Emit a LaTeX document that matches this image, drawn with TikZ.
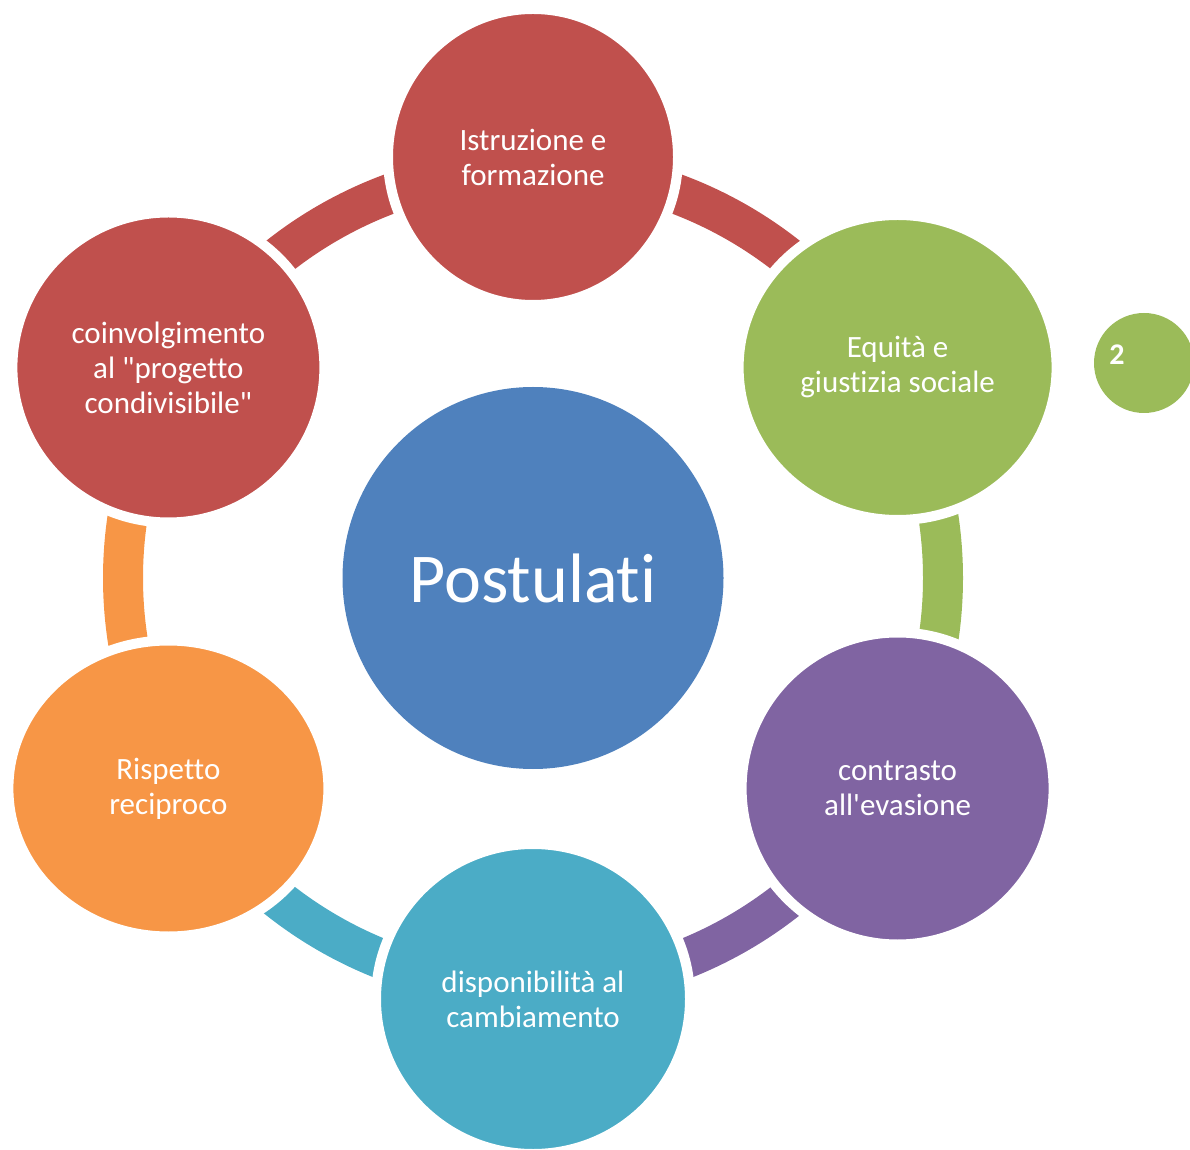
\documentclass[tikz,border=0pt]{standalone}
\usepackage{fontspec}
\newfontfamily\calibri{Carlito}[Ligatures=NoCommon]
\usetikzlibrary{shapes.geometric}
\definecolor{cred}{HTML}{C0504D}
\definecolor{cgreen}{HTML}{9BBB59}
\definecolor{cpurple}{HTML}{8064A2}
\definecolor{cteal}{HTML}{4BACC6}
\definecolor{corange}{HTML}{F79646}
\definecolor{cblue}{HTML}{4F81BD}
\tikzset{
  ringarc/.style={line width=40pt},
  outer/.style={ellipse, draw=white, line width=10pt, inner sep=0pt, text=white, align=center,
    font=\calibri\fontsize{31}{35}\selectfont},
}
\begin{document}
\begin{tikzpicture}[x=1pt,y=1pt]
\useasboundingbox (0,0) rectangle (1190,1149);
\clip (0,0) rectangle (1190,1149);
\coordinate (C) at (533,571);
% ring arcs
\draw[ringarc, cred] ([shift={(90:410)}]C) arc[start angle=90, end angle=30, radius=410];
\draw[ringarc, cgreen] ([shift={(30:410)}]C) arc[start angle=30, end angle=-30, radius=410];
\draw[ringarc, cpurple] ([shift={(-30:410)}]C) arc[start angle=-30, end angle=-90, radius=410];
\draw[ringarc, cteal] ([shift={(-90:410)}]C) arc[start angle=-90, end angle=-150, radius=410];
\draw[ringarc, corange] ([shift={(210:410)}]C) arc[start angle=210, end angle=150, radius=410];
\draw[ringarc, cred] ([shift={(150:410)}]C) arc[start angle=150, end angle=90, radius=410];
% center
\node[ellipse, fill=cblue, inner sep=0pt, minimum width=381pt, minimum height=382pt,
  text=white, font=\calibri\fontsize{70}{80}\selectfont] (post) at (C) {Postulati};
% outer circles
\node[outer, fill=cred, minimum width=290pt, minimum height=296pt] (istr) at ([shift={(90:421)}]C) {Istruzione e\\formazione};
\node[outer, fill=cgreen, minimum width=318pt, minimum height=305pt] (equi) at ([shift={(30:421)}]C) {Equità e\\giustizia sociale};
\node[outer, fill=cpurple, minimum width=312pt, minimum height=312pt] (contr) at ([shift={(-30:421)}]C) {contrasto\\all'evasione};
\node[outer, fill=cteal, minimum width=314pt, minimum height=310pt] (disp) at ([shift={(-90:421)}]C) {disponibilità al\\cambiamento};
\node[outer, fill=corange, minimum width=320pt, minimum height=296pt] (risp) at ([shift={(210:421)}]C) {Rispetto\\reciproco};
\node[outer, fill=cred, minimum width=312pt, minimum height=310pt] (coin) at ([shift={(150:421)}]C) {coinvolgimento\\al "progetto\\condivisibile"};
% page number badge
\node[circle, fill=cgreen, inner sep=0pt, minimum size=100pt] (badge) at (1144,786) {};
\node[text=white, font=\calibri\bfseries\fontsize{30}{35}\selectfont, inner sep=0pt] (num) at ([shift={(-27,8)}]badge.center) {2};
\end{tikzpicture}
\end{document}
